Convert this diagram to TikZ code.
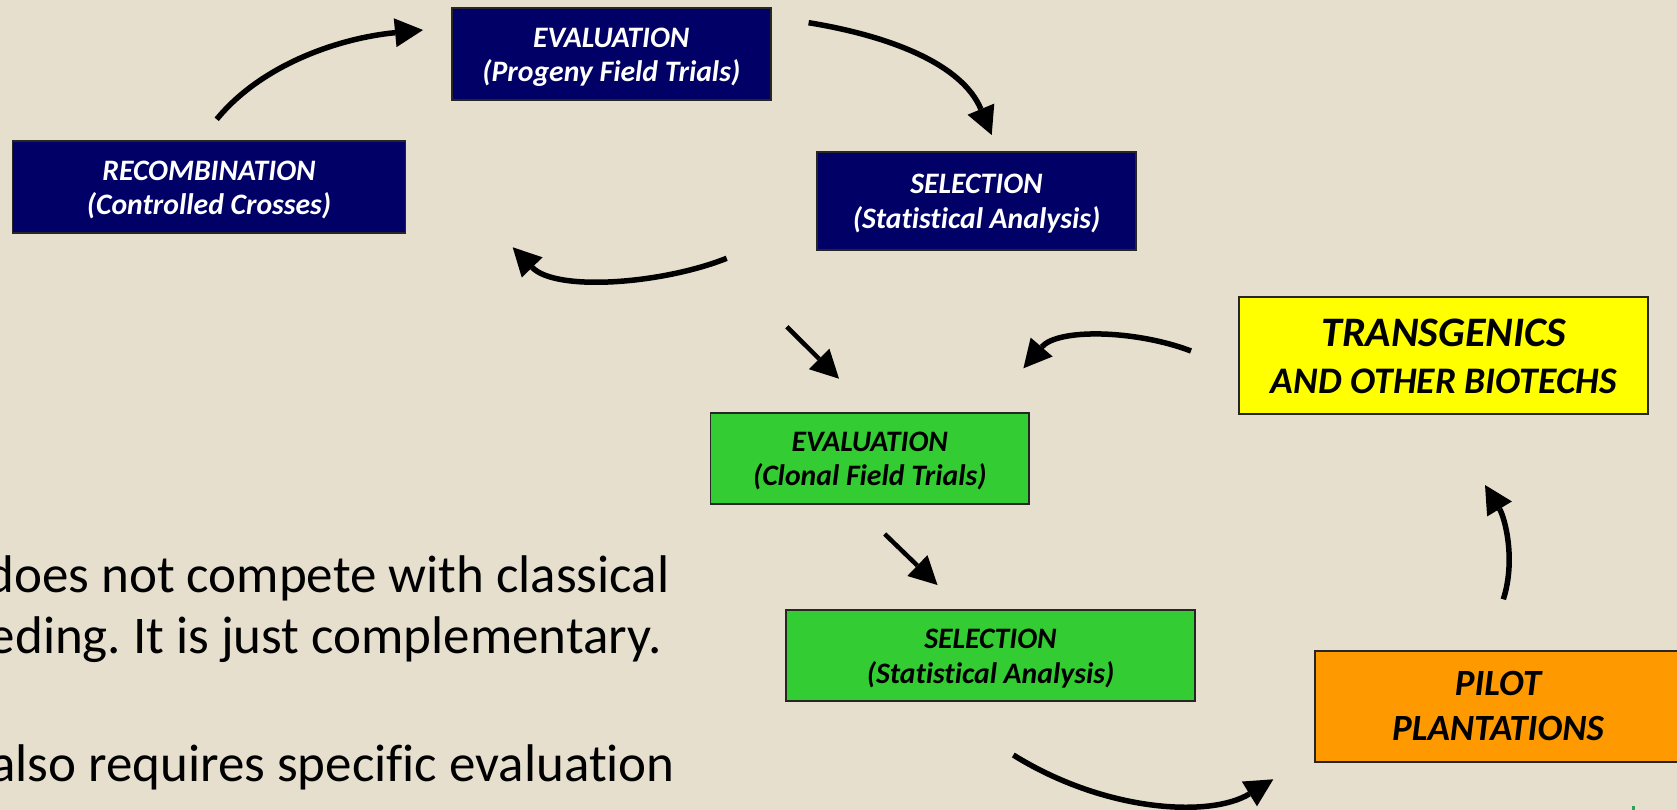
\documentclass[tikz,border=0pt]{standalone}
\usepackage{fontspec}
\setmainfont{Carlito}[Ligatures=NoCommon]
\usetikzlibrary{arrows.meta}
\definecolor{bg}{HTML}{E6DFCE}
\definecolor{navy}{HTML}{000066}
\definecolor{grn}{HTML}{33CC33}
\definecolor{ylw}{HTML}{FFFF00}
\definecolor{orng}{HTML}{FF9900}
\definecolor{edge}{HTML}{262626}
\definecolor{tinygreen}{HTML}{2E9E5B}
\frenchspacing
\tikzset{
  box/.style={draw=edge, line width=1.8pt, rectangle, inner sep=0pt},
  navybox/.style={box, fill=navy},
  greenbox/.style={box, fill=grn},
  txt/.style={anchor=base, inner sep=0pt, font=\fontsize{29.7}{34}\selectfont\bfseries\itshape},
  wtxt/.style={txt, text=white},
  arr/.style={line width=5.5pt, -{Triangle[length=28pt,width=29pt,line width=0pt]}},
  arrs/.style={arr, line width=4.5pt},
  body/.style={anchor=base east, inner sep=0pt, font=\fontsize{53}{54}\selectfont}
}
\begin{document}
\begin{tikzpicture}[x=1pt,y=-1pt]
\fill[bg] (0,0) rectangle (1677,810);
\useasboundingbox (0,0) rectangle (1677,810);

% boxes
\node[navybox, minimum width=393pt, minimum height=92pt] (recomb) at (209,187.3) {};
\node[navybox, minimum width=319pt, minimum height=92pt] (evalA) at (611.3,54.2) {};
\node[navybox, minimum width=319pt, minimum height=98pt] (selA) at (976.5,200.8) {};
\node[box, fill=ylw, minimum width=409pt, minimum height=117pt] (trans) at (1443.7,355.7) {};
\node[greenbox, minimum width=318.5pt, minimum height=91pt] (evalB) at (869.8,458.3) {};
\node[greenbox, minimum width=409pt, minimum height=91pt] (selB) at (990.5,655.3) {};
\node[box, fill=orng, minimum width=366pt, minimum height=111pt] (pilot) at (1498,706.5) {};

% box texts
\node[wtxt, yshift=7pt] (recomb1) at (recomb.center) {RECOMBINATION};
\node[wtxt, yshift=-27pt] (recomb2) at (recomb.center) {(Controlled Crosses)};
\node[wtxt, yshift=7pt] (evalA1) at (evalA.center) {EVALUATION};
\node[wtxt, yshift=-27pt] (evalA2) at (evalA.center) {(Progeny Field Trials)};
\node[wtxt, yshift=7pt] (selA1) at (selA.center) {SELECTION};
\node[wtxt, yshift=-28pt] (selA2) at (selA.center) {(Statistical Analysis)};
\node[txt, yshift=7pt] (evalB1) at (evalB.center) {EVALUATION};
\node[txt, yshift=-27pt] (evalB2) at (evalB.center) {(Clonal Field Trials)};
\node[txt, yshift=7pt] (selB1) at (selB.center) {SELECTION};
\node[txt, yshift=-28pt] (selB2) at (selB.center) {(Statistical Analysis)};
\node[txt, yshift=9pt, font=\fontsize{42}{46}\selectfont\bfseries\itshape] (trans1) at (trans.center) {TRANSGENICS};
\node[txt, yshift=-37.6pt, font=\fontsize{37.5}{46}\selectfont\bfseries\itshape] (trans2) at (trans.center) {AND OTHER BIOTECHS};
\node[txt, yshift=11.5pt, font=\fontsize{37}{46}\selectfont\bfseries\itshape] (pilot1) at (pilot.center) {PILOT};
\node[txt, yshift=-33.5pt, font=\fontsize{37}{46}\selectfont\bfseries\itshape] (pilot2) at (pilot.center) {PLANTATIONS};

% body text (cut at the left edge, as in the reference)
\node[body] (l1) at (669.6,592.7) {does not compete with classical};
\node[body] (l2) at (661.7,653.3) {eding. It is just complementary.};
\node[body] (l3) at (675,781.7) {also requires specific evaluation};

% arrow end points
\coordinate (a1s) at (216.7,119.3); \coordinate (a1e) at (423,30);
\coordinate (a2s) at (808.6,22.7);  \coordinate (a2e) at (991.7,135);
\coordinate (a3s) at (726.7,258.3); \coordinate (a3e) at (512.7,247.3);
\coordinate (a4s) at (786.8,326.7); \coordinate (a4e) at (839,378.7);
\coordinate (a5s) at (1191,351);    \coordinate (a5e) at (1023.4,368.3);
\coordinate (a6s) at (884.7,534);   \coordinate (a6e) at (937.5,585);
\coordinate (a7s) at (1013.3,755);  \coordinate (a7e) at (1273.3,779.3);
\coordinate (a8s) at (1503.3,599.3); \coordinate (a8e) at (1485,485);

\draw[arr] (a1s) .. controls (262,64) and (340,38) .. (a1e);
\draw[arr] (a2s) .. controls (890,36) and (962,64) .. (a2e);
\draw[arr] (a3s) .. controls (662,284) and (556,292) .. (a3e);
\draw[arrs] (a4s) -- (a4e);
\draw[arr] (a5s) .. controls (1136,330) and (1058,328) .. (a5e);
\draw[arrs] (a6s) -- (a6e);
\draw[arr] (a7s) .. controls (1105,812) and (1210,818) .. (a7e);
\draw[arr] (a8s) .. controls (1516,560) and (1505,518) .. (a8e);

% tiny mark at the bottom right
\fill[tinygreen] (1631.5,806) rectangle (1635,810);
\end{tikzpicture}
\end{document}
